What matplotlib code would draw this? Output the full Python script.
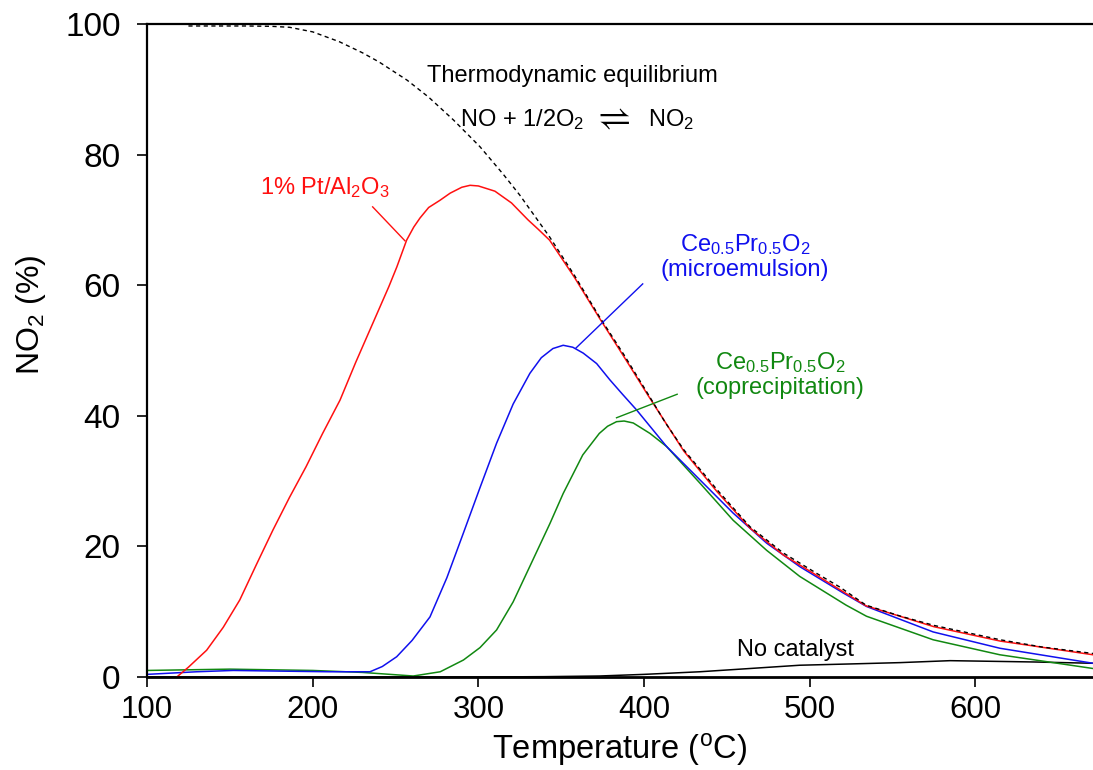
import matplotlib
matplotlib.use("Agg")
import matplotlib.pyplot as plt

plt.rcParams["font.family"] = ["Liberation Sans", "DejaVu Sans"]
plt.rcParams["mathtext.fontset"] = "custom"
plt.rcParams["mathtext.rm"] = "Liberation Sans"
plt.rcParams["mathtext.it"] = "Liberation Sans:italic"
plt.rcParams["mathtext.bf"] = "Liberation Sans:bold"

# Thermodynamic equilibrium (dashed)
eq_T = [125, 150, 160, 175, 186, 200, 216, 230, 240, 257, 270, 285, 301, 315, 325, 343,
        358, 373, 388, 402, 413, 424, 444, 464, 484, 504, 518, 534, 555, 575, 595, 615, 640, 671]
eq_y = [99.7, 99.7, 99.7, 99.65, 99.5, 98.8, 97.3, 95.6, 94.2, 91.4, 88.8, 85.3, 81.2, 77.0, 73.8, 67.4,
        61.5, 55.2, 49.3, 43.5, 38.9, 34.8, 28.7, 23.0, 19.0, 15.9, 13.8, 11.0, 9.3, 7.9, 6.8, 5.7, 4.6, 3.6]

# 1% Pt/Al2O3
red_T = [118, 125, 136, 146, 156, 166, 176, 186, 196, 206, 216.5, 226, 236, 246, 250.8, 256.7,
         261, 264.8, 270, 276.8, 283, 290, 295, 300, 310, 320, 330, 336, 343, 358, 373, 388,
         402, 424, 444, 464, 484, 504, 534, 575, 615, 671]
red_y = [0, 1.5, 4.1, 7.6, 11.8, 17.2, 22.5, 27.5, 32.2, 37.3, 42.4, 48.2, 54.0, 59.8, 62.8, 66.9,
         68.9, 70.3, 71.9, 73.0, 74.1, 75.0, 75.3, 75.2, 74.4, 72.6, 70.0, 68.6, 66.9, 61.2, 55.0, 49.0,
         43.3, 34.6, 28.4, 22.8, 18.7, 15.6, 10.9, 7.7, 5.5, 3.4]

# Ce0.5Pr0.5O2 (microemulsion)
blue_T = [100, 130, 152, 180, 210, 234.6, 242, 250.7, 260, 270.8, 281, 290.9, 301, 311, 321,
          331.1, 338, 345, 351.2, 357, 363.3, 371.4, 379.4, 387, 395.5, 413.6, 433.7, 453.8,
          474, 494, 520, 534.3, 574.5, 614.8, 671]
blue_y = [0.4, 0.8, 1.0, 0.9, 0.8, 0.8, 1.6, 3.1, 5.6, 9.2, 15.2, 22.0, 29.0, 35.8, 41.8,
          46.5, 48.9, 50.3, 50.8, 50.5, 49.6, 48.0, 45.5, 43.3, 40.9, 35.3, 30.2, 25.1,
          20.5, 16.9, 12.9, 10.8, 6.9, 4.4, 2.1]

# Ce0.5Pr0.5O2 (coprecipitation)
green_T = [100, 150, 200, 230, 260.7, 277, 291, 301, 311, 321, 331, 343.2, 351.2, 363, 373,
           378, 383.4, 388, 393.5, 403.6, 413.6, 433.7, 453.8, 474, 494, 522, 534.3, 574.5,
           614.8, 671]
green_y = [1.0, 1.2, 1.0, 0.7, 0.15, 0.8, 2.6, 4.5, 7.2, 11.5, 16.9, 23.5, 28.1, 34.0, 37.3,
           38.4, 39.1, 39.2, 38.9, 37.3, 35.3, 29.7, 24.0, 19.4, 15.4, 11.0, 9.3, 5.7,
           3.4, 1.3]

# No catalyst
black_T = [100, 200, 300, 340, 373, 400, 433.7, 464, 494, 525, 554.6, 584.8, 610, 635, 671]
black_y = [0, 0, 0, 0.05, 0.15, 0.4, 0.8, 1.3, 1.8, 2.0, 2.2, 2.5, 2.4, 2.3, 2.1]

fig = plt.figure(figsize=(10.93, 7.70), dpi=100)
ax = fig.add_axes([0.1345, 0.1208, 0.8655, 0.848])

ax.plot(black_T, black_y, color="black", lw=1.1)
ax.plot(green_T, green_y, color="#118811", lw=1.1)
ax.plot(blue_T, blue_y, color="#1010ee", lw=1.1)
ax.plot(red_T, red_y, color="#ff1010", lw=1.1)
ax.plot(eq_T, eq_y, color="black", lw=1.0, ls=(0, (3, 2.5)))

ax.set_xlim(100, 671)
ax.set_ylim(0, 100)
ax.set_xticks([100, 200, 300, 400, 500, 600])
ax.set_yticks([0, 20, 40, 60, 80, 100])
ax.tick_params(direction="out", length=7, width=1.2)
ax.tick_params(axis="x", pad=6, labelsize=22.5)
ax.tick_params(axis="y", pad=12, labelsize=24)
ax.spines["right"].set_visible(False)
ax.spines["top"].set_linewidth(1.6)
ax.spines["left"].set_linewidth(1.6)
ax.spines["bottom"].set_linewidth(2.0)

ax.set_xlabel(r"Temperature ($^{\mathrm{o}}$C)", fontsize=23.5, labelpad=4)
ax.set_ylabel(r"NO$_2$ (%)", fontsize=23)
ax.yaxis.set_label_coords(-0.105, 0.554)

fs = 17
ax.text(356.5, 92.0, "Thermodynamic equilibrium", fontsize=fs, ha="center", va="center")
ax.text(363.7, 85.3, r"NO + 1/2O$_2$", fontsize=fs, ha="right", va="center")
ax.text(380.0, 85.6, r"$\rightleftharpoons$", fontsize=26, ha="center", va="center")
ax.text(402.4, 85.3, r"NO$_2$", fontsize=fs, ha="left", va="center")

ax.text(207.4, 75.0, r"1% Pt/Al$_2$O$_3$", fontsize=fs, color="#ff1010",
        ha="center", va="center")
ax.plot([236.2, 255.7], [72.0, 66.8], color="#ff1010", lw=1.0)

ax.text(460.9, 66.3, r"Ce$_{0.5}$Pr$_{0.5}$O$_2$", fontsize=fs, color="#1010ee",
        ha="center", va="center")
ax.text(460.9, 62.3, "(microemulsion)", fontsize=fs, color="#1010ee",
        ha="center", va="center")
ax.plot([399.2, 359.0], [60.2, 50.4], color="#1010ee", lw=1.0)

ax.text(482.0, 48.2, r"Ce$_{0.5}$Pr$_{0.5}$O$_2$", fontsize=fs, color="#118811",
        ha="center", va="center")
ax.text(482.0, 44.3, "(coprecipitation)", fontsize=fs, color="#118811",
        ha="center", va="center")
ax.plot([420.0, 383.4], [43.3, 39.7], color="#118811", lw=1.0)

ax.text(491.7, 4.1, "No catalyst", fontsize=fs, ha="center", va="center")

fig.savefig("out.png", dpi=100)
